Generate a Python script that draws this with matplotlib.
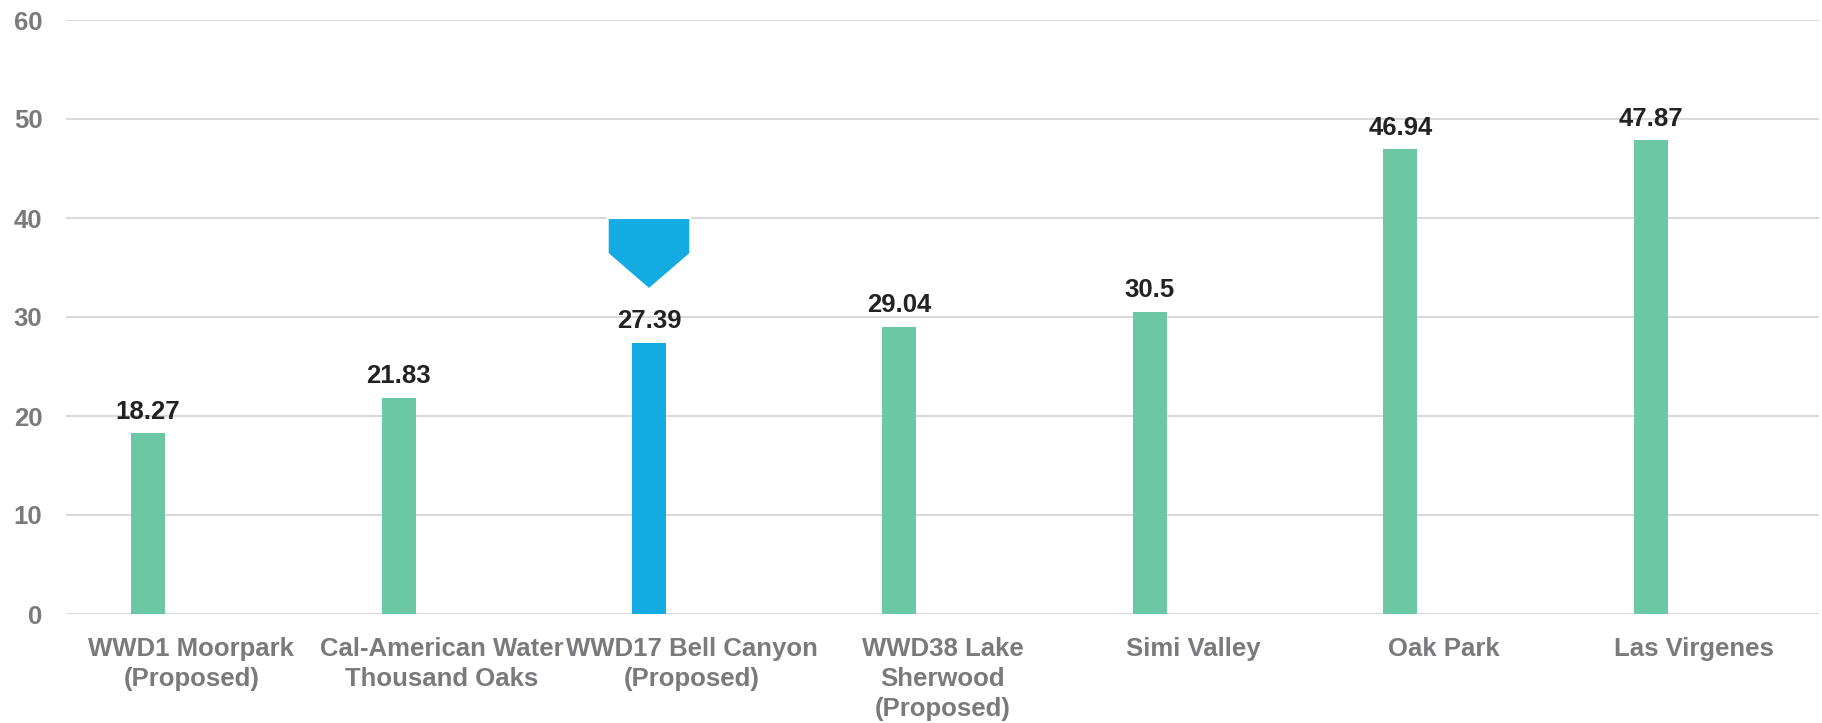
import matplotlib
matplotlib.use("Agg")
import matplotlib.pyplot as plt
from matplotlib.patches import Polygon
import numpy as np

categories = ["WWD1 Moorpark\n(Proposed)", "Cal-American Water\nThousand Oaks",
              "WWD17 Bell Canyon\n(Proposed)", "WWD38 Lake\nSherwood\n(Proposed)",
              "Simi Valley", "Oak Park", "Las Virgenes"]
values = [18.27, 21.83, 27.39, 29.04, 30.5, 46.94, 47.87]
value_labels = ["18.27", "21.83", "27.39", "29.04", "30.5", "46.94", "47.87"]
highlight_index = 2
y_ticks = [0, 10, 20, 30, 40, 50, 60]

GREEN = "#6CC7A4"
BLUE = "#13ABE2"
TICK_GRAY = "#7A7A7E"
GRID = "#D9D9D9"

plt.rcParams['font.family'] = ['Liberation Sans', 'DejaVu Sans']

fig = plt.figure(figsize=(18.22, 7.23), dpi=100)
ax = fig.add_axes([66/1822, 1 - 614/723, (1819 - 66)/1822, (614 - 20)/723])

x = np.arange(len(categories))
bar_offset = -0.172
bar_width = 0.136
colors = [BLUE if i == highlight_index else GREEN for i in range(len(values))]
bars = ax.bar(x + bar_offset, values, width=bar_width, color=colors, zorder=3)

for b, lab in zip(bars, value_labels):
    ax.annotate(lab, (b.get_x() + b.get_width()/2, b.get_height()),
                xytext=(0, 10.5), textcoords="offset points",
                ha="center", va="baseline", fontsize=18.5, fontweight="bold",
                color="#222222", zorder=4)

# highlight marker (pentagon arrow) above the highlighted bar
hx = x[highlight_index] + bar_offset
half_w = 0.165
top, shoulder, tip = 40.0, 36.4, 32.8
poly = Polygon([(hx - half_w, top), (hx + half_w, top), (hx + half_w, shoulder),
                (hx, tip), (hx - half_w, shoulder)], closed=True,
               facecolor=BLUE, edgecolor="white", linewidth=1.5, zorder=5)
ax.add_patch(poly)

ax.set_xlim(-0.5, len(categories) - 0.5)
ax.set_ylim(0, 60)
ax.set_yticks(y_ticks)
ax.set_yticklabels([str(t) for t in y_ticks])
ax.set_xticks(x)
ax.set_xticklabels(categories, linespacing=1.32)

ax.grid(axis="y", color=GRID, linewidth=1.5, zorder=0)
ax.set_axisbelow(True)
for s in ax.spines.values():
    s.set_visible(False)

ax.tick_params(axis="y", length=0, pad=17, labelsize=18.5, labelcolor=TICK_GRAY)
ax.tick_params(axis="x", length=0, pad=16.5, labelsize=18.5, labelcolor=TICK_GRAY)
for t in ax.get_xticklabels() + ax.get_yticklabels():
    t.set_fontweight("bold")

fig.savefig("out.png", dpi=100, facecolor="white")
